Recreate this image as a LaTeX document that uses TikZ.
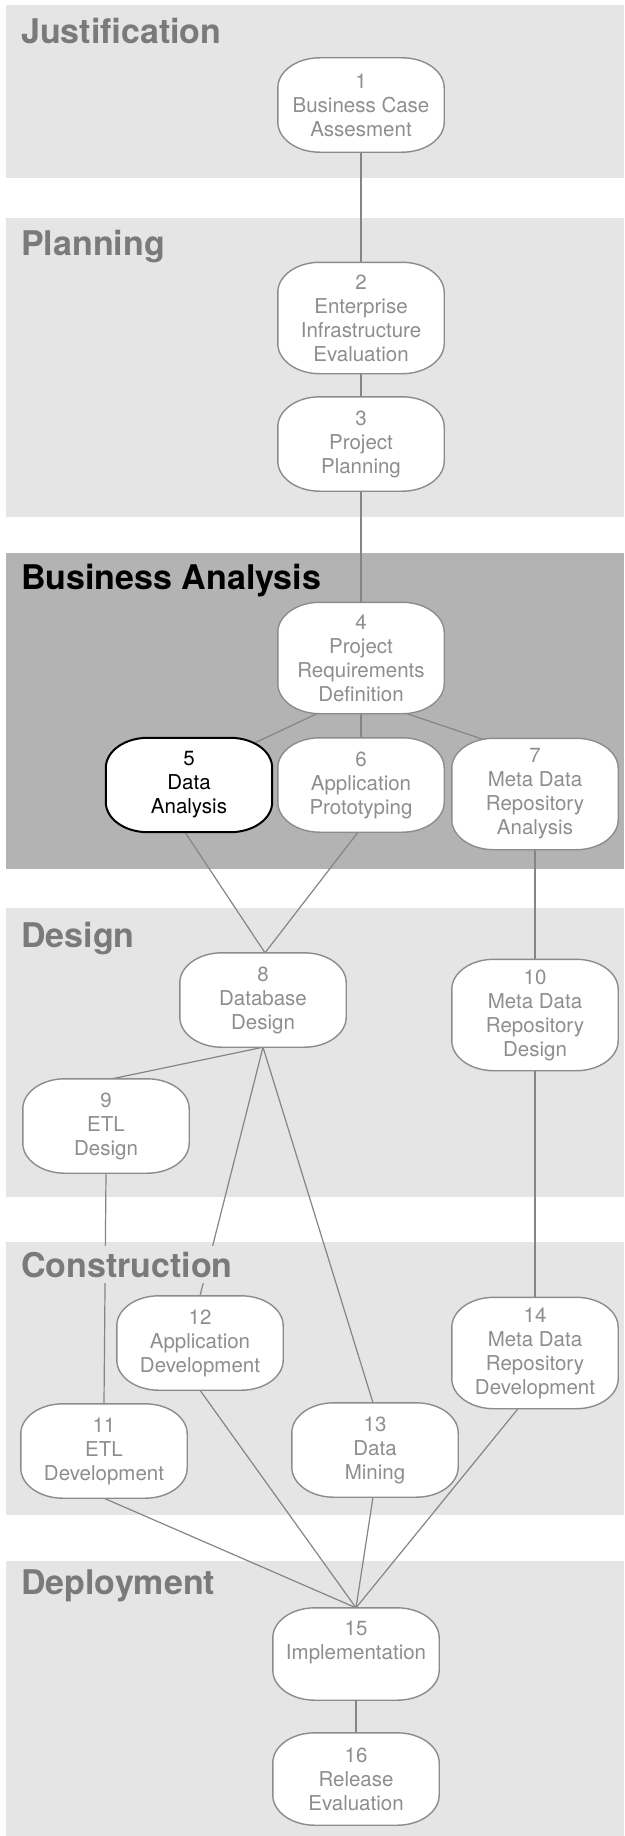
\documentclass[tikz,border=0pt]{standalone}
\usepackage{fontspec}
\setmainfont{TeX Gyre Heros}
\usetikzlibrary{calc}
\pgfdeclarelayer{bands}
\pgfdeclarelayer{lines}
\pgfdeclarelayer{boxes}
\pgfsetlayers{bands,lines,boxes,main}
\definecolor{bandlight}{HTML}{E5E5E5}
\definecolor{banddark}{HTML}{B3B3B3}
\definecolor{titlegray}{HTML}{7A7A7A}
\definecolor{textgray}{HTML}{8E8E8E}
\definecolor{edgegray}{HTML}{8C8C8C}
\definecolor{linegray}{HTML}{858585}
\newcommand\pillbox[2][]{\draw[pill,#1] ([xshift=42pt]#2.north west) -- ([xshift=-42pt]#2.north east) arc[start angle=90,end angle=0,x radius=42pt,y radius=30pt] -- ([yshift=30pt]#2.south east) arc[start angle=0,end angle=-90,x radius=42pt,y radius=30pt] -- ([xshift=42pt]#2.south west) arc[start angle=270,end angle=180,x radius=42pt,y radius=30pt] -- ([yshift=-30pt]#2.north west) arc[start angle=180,end angle=90,x radius=42pt,y radius=30pt] -- cycle;}
\tikzset{
  stage/.style={inner sep=0pt, minimum width=166pt, minimum height=94pt, align=center, text=textgray, font=\fontsize{20.5}{24}\selectfont},
  tall/.style={minimum height=111pt},
  pill/.style={draw=edgegray, line width=1.4pt, fill=white},
  focus/.style={draw=black, line width=2pt},
  link/.style={draw=linegray, line width=1.2pt, shorten <=-6pt, shorten >=-6pt},
  phase/.style={anchor=base west, font=\fontsize{34}{37}\selectfont\bfseries, text=titlegray, fill=bandlight, inner xsep=2pt, inner ysep=0pt, text height=31pt, text depth=6pt},
}
\begin{document}
\begin{tikzpicture}[x=1pt,y=-1pt]
\useasboundingbox (0,0) rectangle (624,1836);
\begin{pgfonlayer}{bands}
\fill[white] (0,0) rectangle (624,1836);
\fill[bandlight] (6,5) rectangle (624,178);
\fill[bandlight] (6,218) rectangle (624,517);
\fill[banddark] (6,553) rectangle (624,869);
\fill[bandlight] (6,908) rectangle (624,1197);
\fill[bandlight] (6,1242) rectangle (624,1515);
\fill[bandlight] (6,1561) rectangle (624,1836);
\end{pgfonlayer}

\node[phase] (tJ) at (19,44) {Justification};
\node[phase] (tP) at (19,255) {Planning};
\node[phase, fill=banddark, text=black] (tB) at (19,589) {Business Analysis};
\node[phase] (tD) at (19,947) {Design};
\node[phase] (tC) at (19,1277) {Construction};
\node[phase] (tE) at (19,1594) {Deployment};

\node[stage] (n1) at (361,105) {1\\Business Case\\Assesment};
\node[stage,tall] (n2) at (361,318) {2\\Enterprise\\Infrastructure\\Evaluation};
\node[stage] (n3) at (361,444) {3\\Project\\Planning};
\node[stage,tall] (n4) at (361,658) {4\\Project\\Requirements\\Definition};
\node[stage,text=black] (n5) at (189,785) {5\\Data\\Analysis};
\node[stage] (n6) at (361,785) {6\\Application\\Prototyping};
\node[stage,tall] (n7) at (535,794) {7\\Meta Data\\Repository\\Analysis};
\node[stage] (n8) at (263,1000) {8\\Database\\Design};
\node[stage] (n9) at (106,1126) {9\\ETL\\Design};
\node[stage,tall] (n10) at (535,1015) {10\\Meta Data\\Repository\\Design};
\node[stage] (n11) at (104,1451) {11\\ETL\\Development};
\node[stage] (n12) at (200,1343) {12\\Application\\Development};
\node[stage] (n13) at (375,1450) {13\\Data\\Mining};
\node[stage,tall] (n14) at (535,1353) {14\\Meta Data\\Repository\\Development};
\node[stage,minimum height=92pt] (n15) at (356,1654) {15\\Implementation\\\phantom{Xg}};
\node[stage,minimum height=92pt] (n16) at (356,1779) {16\\Release\\Evaluation};

\begin{pgfonlayer}{lines}
\draw[link] (n1.south) -- (n2.north);
\draw[link] (n2.south) -- (n3.north);
\draw[link] (n3.south) -- (n4.north);
\draw[link] ($(n4.south)+(-44,0)$) -- ($(n5.north)+(68,4)$);
\draw[link] (n4.south) -- (n6.north);
\draw[link] ($(n4.south)+(49,1)$) -- ($(n7.north)+(-55,0)$);
\draw[link] ($(n5.south)+(-4,0)$) -- ($(n8.north)+(2,0)$);
\draw[link] ($(n6.south)+(-3,0)$) -- ($(n8.north)+(2,0)$);
\draw[link] (n7.south) -- (n10.north);
\draw[link] (n8.south) -- ($(n9.north)+(6,0)$);
\draw[link] (n8.south) -- (n12.north);
\draw[link] (n8.south) -- ($(n13.north)+(-2,0)$);
\draw[link] (n9.south) -- (n11.north);
\draw[link] (n10.south) -- (n14.north);
\draw[link] (n11.south) -- (n15.north);
\draw[link] (n12.south) -- (n15.north);
\draw[link] ($(n13.south)+(-2,0)$) -- (n15.north);
\draw[link] ($(n14.south)+(-17,0)$) -- (n15.north);
\draw[link] (n15.south) -- (n16.north);
\end{pgfonlayer}

\begin{pgfonlayer}{boxes}
\pillbox{n1}
\pillbox{n2}
\pillbox{n3}
\pillbox{n4}
\pillbox[focus]{n5}
\pillbox{n6}
\pillbox{n7}
\pillbox{n8}
\pillbox{n9}
\pillbox{n10}
\pillbox{n11}
\pillbox{n12}
\pillbox{n13}
\pillbox{n14}
\pillbox{n15}
\pillbox{n16}
\end{pgfonlayer}
\end{tikzpicture}
\end{document}
